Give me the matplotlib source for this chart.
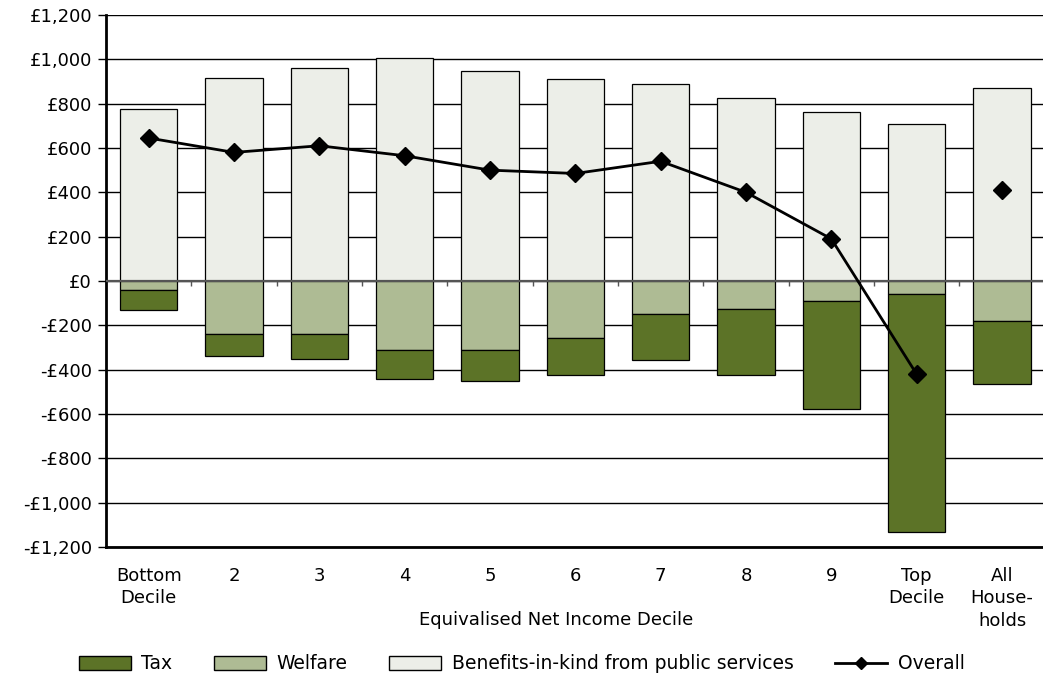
import matplotlib.pyplot as plt
import numpy as np
from matplotlib.patches import Patch
from matplotlib.lines import Line2D

plt.rcParams['font.family'] = ['DejaVu Sans']

# Données
categories = ['Bottom\nDecile', '2', '3', '4', '5', '6', '7', '8', '9', 'Top\nDecile', 'All\nHouse-\nholds']
benefits = [775, 915, 960, 1005, 945, 910, 890, 825, 760, 710, 870]
welfare = [-40, -240, -240, -310, -310, -255, -150, -125, -90, -60, -180]
tax = [-90, -100, -110, -130, -140, -170, -205, -300, -485, -1070, -285]
overall = [645, 580, 610, 565, 500, 485, 540, 400, 190, -420, 410]
yticks = np.arange(-1200, 1201, 200)

c_tax = '#5c7327'
c_welfare = '#aebb94'
c_benefits = '#eceee8'

x = np.arange(len(categories))
w = 0.67

fig = plt.figure(figsize=(10.43, 6.78), dpi=100)
ax = fig.add_axes([0.1016, 0.193, 0.9, 0.785])

for y in yticks:
    ax.axhline(y, color='black', lw=1.0, zorder=0)

ax.bar(x, benefits, w, color=c_benefits, edgecolor='black', lw=0.9, zorder=2)
ax.bar(x, welfare, w, color=c_welfare, edgecolor='black', lw=0.9, zorder=2)
ax.bar(x, tax, w, bottom=welfare, color=c_tax, edgecolor='black', lw=0.9, zorder=2)
ax.axhline(0, color='#555555', lw=1.6, zorder=3)

# petites graduations entre catégories sur la ligne zéro
ax.vlines(x[:-1] + 0.5, -22, 0, color='#555555', lw=1.0, zorder=3)

# ligne "Overall" (déciles), point isolé pour l'ensemble
ax.plot(x[:-1], overall[:-1], color='black', lw=2, marker='D', ms=9, zorder=4)
ax.plot(x[-1:], overall[-1:], color='black', lw=0, marker='D', ms=9, zorder=4)

ax.set_xlim(-0.5, len(categories) - 0.5)
ax.set_ylim(-1200, 1200)
ax.set_yticks(yticks)
ax.set_yticklabels([('-' if v < 0 else '') + '£{:,}'.format(abs(v)) for v in yticks], fontsize=13)
ax.set_xticks(x)
ax.set_xticklabels(categories, fontsize=13, linespacing=1.35)
ax.tick_params(axis='x', length=0, pad=14)
ax.tick_params(axis='y', length=6, width=1, pad=4)
ax.set_xlabel('Equivalised Net Income Decile', fontsize=13, labelpad=-14, x=0.48)

for s in ['top', 'right']:
    ax.spines[s].set_visible(False)
ax.spines['left'].set_linewidth(2)
ax.spines['bottom'].set_linewidth(2)

handles = [Patch(facecolor=c_tax, edgecolor='black', label='Tax'),
           Patch(facecolor=c_welfare, edgecolor='black', label='Welfare'),
           Patch(facecolor=c_benefits, edgecolor='black', label='Benefits-in-kind from public services'),
           Line2D([], [], color='black', lw=2, marker='D', ms=6, label='Overall')]
fig.legend(handles=handles, loc='lower center', bbox_to_anchor=(0.5, -0.018), ncol=4,
           frameon=False, fontsize=13.5, handlelength=2.8, handleheight=0.75, columnspacing=2.2, handletextpad=0.55)

plt.savefig('out.png', dpi=100)
